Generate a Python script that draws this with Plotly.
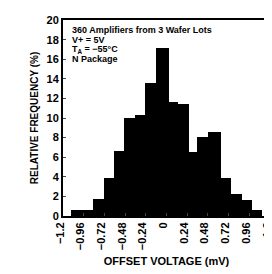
import plotly.graph_objects as go

# Histogram bin edges (mV)
bin_edges = [-1.11, -0.98, -0.851, -0.719, -0.614, -0.494, -0.366, -0.25, -0.122,
             0.032, 0.138, 0.265, 0.352, 0.483, 0.634, 0.753, 0.874, 0.99, 1.11]
# Relative frequency (%) per bin
rel_freq = [0.62, 0.62, 1.77, 3.9, 6.63, 9.98, 10.3, 13.53, 17.17,
            11.69, 11.43, 6.53, 8.1, 8.6, 3.87, 2.24, 1.61, 0.62]

x_tickvals = [-1.2, -0.96, -0.72, -0.48, -0.24, 0, 0.24, 0.48, 0.72, 0.96, 1.2]
x_ticktext = ["\u22121.2", "\u22120.96", "\u22120.72", "\u22120.48", "\u22120.24", "0",
              "0.24", "0.48", "0.72", "0.96", "1.2"]
y_tickvals = [0, 2, 4, 6, 8, 10, 12, 14, 16, 18, 20]

notes = ["360 Amplifiers from 3 Wafer Lots", "V+ = 5V",
         "T<sub>A</sub> = \u221255\u00b0C", "N Package"]

centers = [(a + b) / 2 for a, b in zip(bin_edges[:-1], bin_edges[1:])]
widths = [b - a for a, b in zip(bin_edges[:-1], bin_edges[1:])]

FONT = "Liberation Sans"

fig = go.Figure(go.Bar(x=centers, y=rel_freq, width=widths,
                       marker=dict(color="black", line=dict(width=0))))

for i, t in enumerate(notes):
    fig.add_annotation(x=-1.12, y=19 - i, xref="x", yref="y", text=t,
                       showarrow=False, xanchor="left", yanchor="middle",
                       font=dict(family=FONT, size=9, color="black", weight="bold"))

fig.update_layout(
    width=272, height=274,
    margin=dict(l=55, r=10, t=6, b=66),
    plot_bgcolor="white", paper_bgcolor="white",
    showlegend=False, bargap=0,
    font=dict(family=FONT, size=11, color="black", weight="bold"),
    xaxis=dict(range=[-1.2, 1.2], tickvals=x_tickvals, ticktext=x_ticktext,
               tickangle=-90, ticks="inside", ticklen=3, tickwidth=1,
               ticklabeloverflow="allow", ticklabelshift=-3,
               showline=True, linecolor="black", linewidth=2, mirror=True,
               showgrid=False, zeroline=False,
               title=dict(text="OFFSET VOLTAGE (mV)", standoff=8,
                          font=dict(family=FONT, size=11, weight="bold"))),
    yaxis=dict(range=[0, 20.01], tickvals=y_tickvals,
               ticks="inside", ticklen=3, tickwidth=1,
               ticklabeloverflow="allow",
               showline=True, linecolor="black", linewidth=2, mirror=True,
               showgrid=False, zeroline=False,
               title=dict(text="RELATIVE FREQUENCY (%)", standoff=6,
                          font=dict(family=FONT, size=10, weight="bold"))),
)

fig.write_html("out.html")
